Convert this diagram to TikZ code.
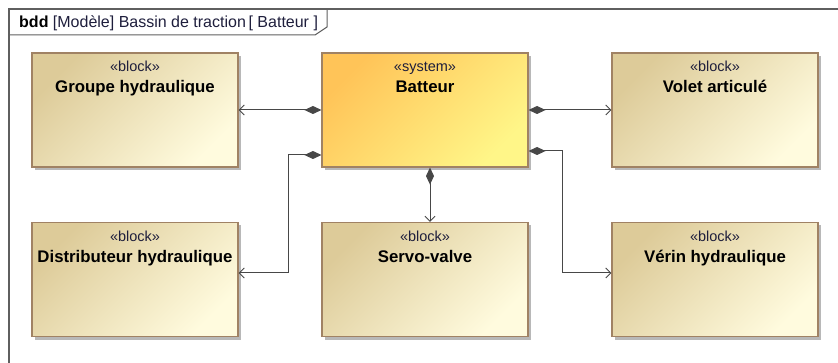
\documentclass[tikz,border=0pt]{standalone}
\usepackage{fontspec}
\setmainfont{Liberation Sans}
\usetikzlibrary{arrows.meta,shadows}
\definecolor{blkA}{RGB}{221,203,153}
\definecolor{blkB}{RGB}{255,251,222}
\definecolor{sysA}{RGB}{255,196,88}
\definecolor{sysB}{RGB}{255,246,136}
\definecolor{blkline}{RGB}{160,130,100}
\definecolor{framecol}{RGB}{95,95,95}
\definecolor{stereo}{RGB}{30,30,60}
\tikzset{
  umlbox/.style={rectangle, draw=blkline, line width=1.1pt, minimum width=206pt, minimum height=114pt, inner sep=3pt,
    drop shadow={shadow xshift=3pt, shadow yshift=-3pt, fill=black!28, opacity=1}},
  blockbox/.style={umlbox, top color=blkA, bottom color=blkB, shading angle=45},
  sysbox/.style={umlbox, top color=sysA, bottom color=sysB, shading angle=45},
  conn/.style={draw=black!72, line width=1pt, {Diamond[length=17pt,width=8pt]}-{Straight Barb[length=5pt,width=10pt]}},
}
\newcommand{\blk}[2]{\parbox[c][108pt][t]{200pt}{\centering\rule{0pt}{16pt}\fontsize{14.5}{21}\selectfont\color{stereo}«#1»\\\color{black}\fontsize{16.8}{21}\selectfont\textbf{#2}}}
\begin{document}
\begin{tikzpicture}[x=1pt,y=-1pt]
\useasboundingbox (0,0) rectangle (838,363);
\clip (0,0) rectangle (838,363);
% frame
\draw[framecol, line width=1.5pt] (9,380) -- (9,9) -- (860,9);
\draw[framecol, line width=1pt] (9,35) -- (315,35) -- (327,27) -- (327,9);
\node[anchor=west, inner sep=0pt, font=\fontsize{16}{18}\selectfont] (title) at (19,23) {\textbf{bdd} \color{stereo}[Modèle] Bassin de traction\,[ Batteur ]};
% blocks
\node[blockbox] (gh)  at (135,110)  {\blk{block}{Groupe hydraulique}};
\node[sysbox]   (bat) at (425,110)  {\blk{system}{Batteur}};
\node[blockbox] (vol) at (715,110)  {\blk{block}{Volet articulé}};
\node[blockbox] (dist) at (135,279.5) {\blk{block}{Distributeur hydraulique}};
\node[blockbox] (sv)  at (425,279.5) {\blk{block}{Servo-valve}};
\node[blockbox] (ver) at (715,279.5) {\blk{block}{Vérin hydraulique}};
% connectors
\draw[conn] (bat.west) -- (gh.east);
\draw[conn] (bat.east) -- (vol.west);
\draw[conn] ([xshift=5pt]bat.south) -- ([xshift=5pt]sv.north);
\draw[conn] ([yshift=-45pt]bat.west) -| ([xshift=50pt,yshift=6.5pt]dist.east) -- ([yshift=6.5pt]dist.east);
\draw[conn] ([yshift=-41pt]bat.east) -| ([xshift=-49pt,yshift=6.5pt]ver.west) -- ([yshift=6.5pt]ver.west);
\end{tikzpicture}
\end{document}
